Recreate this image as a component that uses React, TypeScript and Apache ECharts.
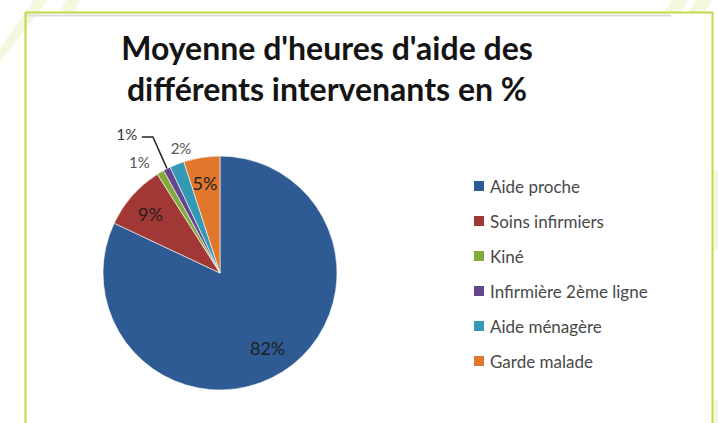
import React, { useEffect, useRef } from "react";
import * as echarts from "echarts";

const categories = [
  "Aide proche",
  "Soins infirmiers",
  "Kiné",
  "Infirmière 2ème ligne",
  "Aide ménagère",
  "Garde malade",
];
const values = [82, 9, 1, 1, 2, 5];
const colors = ["#2f5b94", "#a23835", "#84a93d", "#66458f", "#3399b5", "#e0772b"];
const titleLines = ["Moyenne d'heures d'aide des", "différents intervenants en %"];

export default function App() {
  const ref = useRef<HTMLDivElement>(null);

  useEffect(() => {
    const chart = echarts.init(ref.current!, null, { renderer: "svg" });
    const cx = 220;
    const cy = 273;
    const R = 117;
    const total = values.reduce((a, b) => a + b, 0);
    const mids: number[] = [];
    let acc = 0;
    values.forEach((v) => {
      const start = 90 - (acc / total) * 360;
      acc += v;
      const end = 90 - (acc / total) * 360;
      mids.push((start + end) / 2);
    });
    // label placement per slice: [radius factor, angle nudge in degrees]
    const labelPlace = [
      [0.76, 0],
      [0.78, 1],
      [1.17, 5.5],
      [1.43, 6.8],
      [1.12, -4.3],
      [0.78, 0.5],
    ];
    const polar = (deg: number, k: number) => {
      const a = (deg * Math.PI) / 180;
      return [cx + R * k * Math.cos(a), cy - R * k * Math.sin(a)];
    };
    const inside = [true, true, false, false, false, true];

    const stripe = "#f3f8df";
    chart.setOption({
      animation: false,
      backgroundColor: "#ffffff",
      graphic: [
        { type: "polygon", silent: true, shape: { points: [[0, 62], [0, 48], [34, 0], [48, 0]] }, style: { fill: stripe } },
        { type: "polygon", silent: true, shape: { points: [[60, 12], [66, 0], [80, 0], [74, 12]] }, style: { fill: stripe } },
        { type: "polygon", silent: true, shape: { points: [[664, 12], [672, 0], [688, 0], [680, 12]] }, style: { fill: stripe } },
        { type: "polygon", silent: true, shape: { points: [[688, 12], [696, 0], [712, 0], [704, 12]] }, style: { fill: stripe } },
        { type: "rect", silent: true, shape: { x: 714, y: 170, width: 4, height: 80 }, style: { fill: stripe } },
        { type: "rect", silent: true, shape: { x: 714, y: 400, width: 4, height: 23 }, style: { fill: stripe } },
        {
          type: "line",
          silent: true,
          shape: { x1: 27, y1: 15.5, x2: 671, y2: 15.5 },
          style: { stroke: "#dcdcdc", lineWidth: 2 },
        },
        {
          type: "polyline",
          silent: true,
          shape: { points: [[25.5, 423], [25.5, 12.5], [712.5, 12.5], [712.5, 423]] },
          style: { stroke: "#bddc45", lineWidth: 2, fill: "none" },
        },
        {
          type: "text",
          x: 327,
          y: 27,
          style: {
            text: titleLines.join("\n"),
            fontFamily: "Lato",
            fontWeight: "bold",
            fontSize: 32,
            lineHeight: 41,
            fill: "#141414",
            align: "center",
            verticalAlign: "top",
          },
        },
      ],
      legend: {
        orient: "vertical",
        left: 467,
        top: 172,
        itemWidth: 12,
        itemHeight: 12,
        itemGap: 17,
        icon: "rect",
        data: categories,
        textStyle: {
          fontFamily: "Lato",
          fontSize: 17,
          lineHeight: 18,
          color: "#484848",
        },
      },
      series: [
        {
          type: "pie",
          center: [cx, cy],
          radius: R,
          startAngle: 90,
          clockwise: true,
          avoidLabelOverlap: false,
          itemStyle: { borderColor: "#ffffff", borderWidth: 0.6 },
          label: {
            show: true,
            position: "outside",
            formatter: "{c}%",
            fontFamily: "Lato",
          },
          labelLine: { show: false },
          data: categories.map((name, i) => ({
            name,
            value: values[i],
            itemStyle: { color: colors[i] },
            label: inside[i]
              ? { fontSize: 18, color: "#1e1e1e" }
              : { fontSize: 15, color: i === 3 ? "#333333" : "#555555" },
            labelLine: { show: i === 3, lineStyle: { color: "#222222", width: 1.5 } },
          })),
          labelLayout: (params: any) => {
            const i = params.dataIndex;
            const [k, d] = labelPlace[i];
            const [x, y] = polar(mids[i] + d, k);
            const res: any = { x, y, align: "center", verticalAlign: "middle" };
            if (i === 3) {
              const edge = polar(mids[i], 0.97);
              res.labelLinePoints = [
                [x + 15, y + 3],
                [x + 26, y + 3],
                edge,
              ];
            }
            return res;
          },
        },
      ],
    });
    return () => chart.dispose();
  }, []);

  return (
    <div
      ref={ref}
      style={{ position: "absolute", left: 0, top: 0, width: 718, height: 423 }}
    />
  );
}
